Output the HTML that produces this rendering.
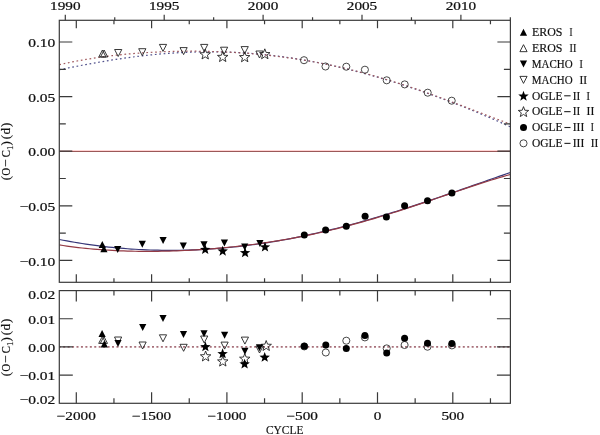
<!DOCTYPE html><html><head><meta charset="utf-8"><style>html,body{margin:0;padding:0;background:#fff;}svg{display:block;} </style></head><body><svg width="600" height="435" viewBox="0 0 600 435">
<rect width="600" height="435" fill="#fff"/>
<defs><filter id="nf" filterUnits="userSpaceOnUse" x="0" y="0" width="600" height="435"><feOffset dx="0" dy="0"/></filter><clipPath id="cu"><rect x="59.3" y="20.3" width="451.09999999999997" height="262.0"/></clipPath><clipPath id="cl"><rect x="59.3" y="290.6" width="451.09999999999997" height="112.69999999999999"/></clipPath></defs>
<g clip-path="url(#cu)" fill="none">
<line x1="59.3" y1="150.5" x2="510.4" y2="150.5" stroke="#ffd4d4" stroke-width="1"/>
<line x1="59.3" y1="151.5" x2="510.4" y2="151.5" stroke="#9c5858" stroke-width="1"/>
<path d="M59.30,69.76 L63.09,68.99 L66.88,68.23 L70.67,67.47 L74.46,66.72 L78.25,65.99 L82.04,65.26 L85.84,64.55 L89.63,63.85 L93.42,63.16 L97.21,62.49 L101.00,61.83 L104.79,61.19 L108.58,60.57 L112.37,59.96 L116.16,59.37 L119.95,58.80 L123.74,58.25 L127.53,57.72 L131.32,57.21 L135.12,56.71 L138.91,56.24 L142.70,55.80 L146.49,55.37 L150.28,54.97 L154.07,54.59 L157.86,54.23 L161.65,53.89 L165.44,53.58 L169.23,53.30 L173.02,53.04 L176.81,52.80 L180.60,52.59 L184.39,52.40 L188.19,52.24 L191.98,52.11 L195.77,52.00 L199.56,51.92 L203.35,51.86 L207.14,51.83 L210.93,51.83 L214.72,51.85 L218.51,51.90 L222.30,51.98 L226.09,52.08 L229.88,52.21 L233.67,52.37 L237.47,52.55 L241.26,52.76 L245.05,53.00 L248.84,53.26 L252.63,53.55 L256.42,53.87 L260.21,54.21 L264.00,54.58 L267.79,54.98 L271.58,55.40 L275.37,55.85 L279.16,56.32 L282.95,56.82 L286.75,57.35 L290.54,57.90 L294.33,58.47 L298.12,59.07 L301.91,59.70 L305.70,60.35 L309.49,61.03 L313.28,61.73 L317.07,62.46 L320.86,63.21 L324.65,63.98 L328.44,64.78 L332.23,65.60 L336.03,66.44 L339.82,67.31 L343.61,68.20 L347.40,69.11 L351.19,70.04 L354.98,71.00 L358.77,71.98 L362.56,72.98 L366.35,74.00 L370.14,75.05 L373.93,76.11 L377.72,77.19 L381.51,78.30 L385.31,79.43 L389.10,80.57 L392.89,81.74 L396.68,82.92 L400.47,84.13 L404.26,85.35 L408.05,86.60 L411.84,87.86 L415.63,89.14 L419.42,90.44 L423.21,91.76 L427.00,93.09 L430.79,94.45 L434.58,95.82 L438.38,97.21 L442.17,98.62 L445.96,100.04 L449.75,101.48 L453.54,102.94 L457.33,104.42 L461.12,105.91 L464.91,107.42 L468.70,108.94 L472.49,110.49 L476.28,112.05 L480.07,113.62 L483.86,115.22 L487.66,116.82 L491.45,118.45 L495.24,120.09 L499.03,121.75 L502.82,123.43 L506.61,125.12 L510.40,126.83" stroke="#50508c" stroke-width="1.2" stroke-dasharray="1.7 2.7"/>
<path d="M59.30,64.71 L63.09,63.85 L66.88,63.02 L70.67,62.24 L74.46,61.48 L78.25,60.76 L82.04,60.08 L85.84,59.42 L89.63,58.80 L93.42,58.20 L97.21,57.64 L101.00,57.10 L104.79,56.59 L108.58,56.11 L112.37,55.65 L116.16,55.22 L119.95,54.81 L123.74,54.43 L127.53,54.07 L131.32,53.73 L135.12,53.42 L138.91,53.12 L142.70,52.85 L146.49,52.60 L150.28,52.38 L154.07,52.17 L157.86,51.98 L161.65,51.82 L165.44,51.67 L169.23,51.54 L173.02,51.44 L176.81,51.35 L180.60,51.28 L184.39,51.24 L188.19,51.21 L191.98,51.20 L195.77,51.21 L199.56,51.24 L203.35,51.29 L207.14,51.36 L210.93,51.45 L214.72,51.55 L218.51,51.68 L222.30,51.83 L226.09,52.00 L229.88,52.19 L233.67,52.40 L237.47,52.62 L241.26,52.87 L245.05,53.14 L248.84,53.44 L252.63,53.75 L256.42,54.08 L260.21,54.44 L264.00,54.81 L267.79,55.21 L271.58,55.63 L275.37,56.08 L279.16,56.54 L282.95,57.03 L286.75,57.54 L290.54,58.08 L294.33,58.63 L298.12,59.21 L301.91,59.82 L305.70,60.45 L309.49,61.10 L313.28,61.77 L317.07,62.47 L320.86,63.19 L324.65,63.94 L328.44,64.71 L332.23,65.51 L336.03,66.33 L339.82,67.17 L343.61,68.04 L347.40,68.93 L351.19,69.85 L354.98,70.78 L358.77,71.75 L362.56,72.73 L366.35,73.75 L370.14,74.78 L373.93,75.84 L377.72,76.91 L381.51,78.02 L385.31,79.14 L389.10,80.29 L392.89,81.45 L396.68,82.64 L400.47,83.85 L404.26,85.08 L408.05,86.33 L411.84,87.59 L415.63,88.88 L419.42,90.18 L423.21,91.50 L427.00,92.83 L430.79,94.18 L434.58,95.55 L438.38,96.93 L442.17,98.32 L445.96,99.72 L449.75,101.13 L453.54,102.56 L457.33,103.99 L461.12,105.42 L464.91,106.87 L468.70,108.31 L472.49,109.77 L476.28,111.22 L480.07,112.67 L483.86,114.12 L487.66,115.57 L491.45,117.01 L495.24,118.45 L499.03,119.88 L502.82,121.30 L506.61,122.70 L510.40,124.10" stroke="#a05a5e" stroke-width="1.2" stroke-dasharray="1.7 2.7"/>
<path d="M59.30,239.49 L63.09,240.23 L66.88,240.94 L70.67,241.63 L74.46,242.28 L78.25,242.92 L82.04,243.52 L85.84,244.10 L89.63,244.65 L93.42,245.18 L97.21,245.68 L101.00,246.15 L104.79,246.60 L108.58,247.03 L112.37,247.42 L116.16,247.79 L119.95,248.14 L123.74,248.46 L127.53,248.76 L131.32,249.03 L135.12,249.27 L138.91,249.49 L142.70,249.68 L146.49,249.85 L150.28,250.00 L154.07,250.12 L157.86,250.21 L161.65,250.28 L165.44,250.33 L169.23,250.35 L173.02,250.34 L176.81,250.31 L180.60,250.26 L184.39,250.18 L188.19,250.08 L191.98,249.95 L195.77,249.81 L199.56,249.63 L203.35,249.43 L207.14,249.21 L210.93,248.97 L214.72,248.70 L218.51,248.41 L222.30,248.09 L226.09,247.75 L229.88,247.39 L233.67,247.01 L237.47,246.60 L241.26,246.17 L245.05,245.72 L248.84,245.24 L252.63,244.75 L256.42,244.23 L260.21,243.68 L264.00,243.12 L267.79,242.54 L271.58,241.93 L275.37,241.30 L279.16,240.65 L282.95,239.98 L286.75,239.29 L290.54,238.58 L294.33,237.84 L298.12,237.09 L301.91,236.32 L305.70,235.53 L309.49,234.71 L313.28,233.88 L317.07,233.03 L320.86,232.16 L324.65,231.27 L328.44,230.37 L332.23,229.44 L336.03,228.50 L339.82,227.54 L343.61,226.56 L347.40,225.57 L351.19,224.56 L354.98,223.53 L358.77,222.49 L362.56,221.43 L366.35,220.35 L370.14,219.26 L373.93,218.16 L377.72,217.04 L381.51,215.91 L385.31,214.76 L389.10,213.60 L392.89,212.43 L396.68,211.24 L400.47,210.05 L404.26,208.84 L408.05,207.62 L411.84,206.39 L415.63,205.15 L419.42,203.90 L423.21,202.64 L427.00,201.38 L430.79,200.10 L434.58,198.82 L438.38,197.53 L442.17,196.23 L445.96,194.93 L449.75,193.62 L453.54,192.31 L457.33,190.99 L461.12,189.67 L464.91,188.34 L468.70,187.02 L472.49,185.69 L476.28,184.36 L480.07,183.03 L483.86,181.70 L487.66,180.37 L491.45,179.04 L495.24,177.72 L499.03,176.39 L502.82,175.08 L506.61,173.76 L510.40,172.45" stroke="#363678" stroke-width="1.2"/>
<path d="M59.30,244.86 L63.09,245.47 L66.88,246.04 L70.67,246.58 L74.46,247.08 L78.25,247.55 L82.04,247.98 L85.84,248.39 L89.63,248.76 L93.42,249.11 L97.21,249.43 L101.00,249.72 L104.79,249.98 L108.58,250.22 L112.37,250.43 L116.16,250.62 L119.95,250.79 L123.74,250.93 L127.53,251.05 L131.32,251.15 L135.12,251.23 L138.91,251.29 L142.70,251.33 L146.49,251.34 L150.28,251.34 L154.07,251.32 L157.86,251.28 L161.65,251.22 L165.44,251.15 L169.23,251.05 L173.02,250.94 L176.81,250.81 L180.60,250.66 L184.39,250.49 L188.19,250.31 L191.98,250.11 L195.77,249.89 L199.56,249.65 L203.35,249.40 L207.14,249.13 L210.93,248.84 L214.72,248.53 L218.51,248.21 L222.30,247.87 L226.09,247.51 L229.88,247.13 L233.67,246.73 L237.47,246.32 L241.26,245.89 L245.05,245.44 L248.84,244.97 L252.63,244.48 L256.42,243.97 L260.21,243.45 L264.00,242.91 L267.79,242.34 L271.58,241.76 L275.37,241.16 L279.16,240.54 L282.95,239.90 L286.75,239.23 L290.54,238.55 L294.33,237.85 L298.12,237.13 L301.91,236.39 L305.70,235.63 L309.49,234.85 L313.28,234.05 L317.07,233.23 L320.86,232.39 L324.65,231.53 L328.44,230.64 L332.23,229.74 L336.03,228.82 L339.82,227.88 L343.61,226.92 L347.40,225.94 L351.19,224.94 L354.98,223.93 L358.77,222.89 L362.56,221.84 L366.35,220.76 L370.14,219.67 L373.93,218.57 L377.72,217.44 L381.51,216.30 L385.31,215.15 L389.10,213.98 L392.89,212.79 L396.68,211.60 L400.47,210.38 L404.26,209.16 L408.05,207.92 L411.84,206.68 L415.63,205.42 L419.42,204.16 L423.21,202.88 L427.00,201.60 L430.79,200.31 L434.58,199.02 L438.38,197.73 L442.17,196.43 L445.96,195.13 L449.75,193.84 L453.54,192.54 L457.33,191.25 L461.12,189.96 L464.91,188.68 L468.70,187.41 L472.49,186.14 L476.28,184.89 L480.07,183.65 L483.86,182.43 L487.66,181.23 L491.45,180.04 L495.24,178.88 L499.03,177.74 L502.82,176.63 L506.61,175.54 L510.40,174.49" stroke="#943a44" stroke-width="1.2"/>
</g>
<g clip-path="url(#cl)"><line x1="59.3" y1="346.90" x2="510.4" y2="346.90" stroke="#a8707a" stroke-width="1.7" stroke-dasharray="2.0 2.44" stroke-dashoffset="0.56"/></g>
<rect x="59.3" y="20.3" width="451.10" height="262.00" fill="none" stroke="#3a3a3a" stroke-width="1.2"/>
<rect x="59.3" y="290.6" width="451.10" height="112.70" fill="none" stroke="#3a3a3a" stroke-width="1.2"/>
<path d="M76.30,282.30L76.30,274.30M76.30,20.30L76.30,28.30M76.30,403.30L76.30,392.30M76.30,290.60L76.30,301.60M113.95,282.30L113.95,278.30M113.95,20.30L113.95,24.30M113.95,403.30L113.95,398.30M113.95,290.60L113.95,295.60M151.60,282.30L151.60,274.30M151.60,20.30L151.60,28.30M151.60,403.30L151.60,392.30M151.60,290.60L151.60,301.60M189.25,282.30L189.25,278.30M189.25,20.30L189.25,24.30M189.25,403.30L189.25,398.30M189.25,290.60L189.25,295.60M226.90,282.30L226.90,274.30M226.90,20.30L226.90,28.30M226.90,403.30L226.90,392.30M226.90,290.60L226.90,301.60M264.55,282.30L264.55,278.30M264.55,20.30L264.55,24.30M264.55,403.30L264.55,398.30M264.55,290.60L264.55,295.60M302.20,282.30L302.20,274.30M302.20,20.30L302.20,28.30M302.20,403.30L302.20,392.30M302.20,290.60L302.20,301.60M339.85,282.30L339.85,278.30M339.85,20.30L339.85,24.30M339.85,403.30L339.85,398.30M339.85,290.60L339.85,295.60M377.50,282.30L377.50,274.30M377.50,20.30L377.50,28.30M377.50,403.30L377.50,392.30M377.50,290.60L377.50,301.60M415.15,282.30L415.15,278.30M415.15,20.30L415.15,24.30M415.15,403.30L415.15,398.30M415.15,290.60L415.15,295.60M452.80,282.30L452.80,274.30M452.80,20.30L452.80,28.30M452.80,403.30L452.80,392.30M452.80,290.60L452.80,301.60M490.45,282.30L490.45,278.30M490.45,20.30L490.45,24.30M490.45,403.30L490.45,398.30M490.45,290.60L490.45,295.60M65.30,20.30L65.30,14.80M114.75,20.30L114.75,17.30M164.20,20.30L164.20,14.80M213.65,20.30L213.65,17.30M263.10,20.30L263.10,14.80M312.55,20.30L312.55,17.30M362.00,20.30L362.00,14.80M411.45,20.30L411.45,17.30M460.90,20.30L460.90,14.80M510.35,20.30L510.35,17.30M59.30,260.40L72.30,260.40M510.40,260.40L497.40,260.40M59.30,233.10L65.80,233.10M510.40,233.10L503.90,233.10M59.30,205.80L72.30,205.80M510.40,205.80L497.40,205.80M59.30,178.50L65.80,178.50M510.40,178.50L503.90,178.50M59.30,151.20L72.30,151.20M510.40,151.20L497.40,151.20M59.30,123.90L65.80,123.90M510.40,123.90L503.90,123.90M59.30,96.60L72.30,96.60M510.40,96.60L497.40,96.60M59.30,69.30L65.80,69.30M510.40,69.30L503.90,69.30M59.30,42.00L72.30,42.00M510.40,42.00L497.40,42.00M59.30,375.05L72.80,375.05M510.40,375.05L496.90,375.05M59.30,346.90L72.80,346.90M510.40,346.90L496.90,346.90M59.30,318.75L72.80,318.75M510.40,318.75L496.90,318.75" stroke="#3a3a3a" stroke-width="1.2" fill="none"/>
<g><polygon points="102.40,50.00 98.80,57.00 106.00,57.00" fill="none" stroke="#222" stroke-width="0.9" stroke-linejoin="miter"/>
<polygon points="104.10,50.00 100.50,57.00 107.70,57.00" fill="none" stroke="#222" stroke-width="0.9" stroke-linejoin="miter"/>
<polygon points="118.20,56.50 114.60,49.50 121.80,49.50" fill="none" stroke="#222" stroke-width="0.9" stroke-linejoin="miter"/>
<polygon points="142.30,55.70 138.70,48.70 145.90,48.70" fill="none" stroke="#222" stroke-width="0.9" stroke-linejoin="miter"/>
<polygon points="163.00,51.40 159.40,44.40 166.60,44.40" fill="none" stroke="#222" stroke-width="0.9" stroke-linejoin="miter"/>
<polygon points="183.60,54.60 180.00,47.60 187.20,47.60" fill="none" stroke="#222" stroke-width="0.9" stroke-linejoin="miter"/>
<polygon points="204.20,51.40 200.60,44.40 207.80,44.40" fill="none" stroke="#222" stroke-width="0.9" stroke-linejoin="miter"/>
<polygon points="224.10,54.20 220.50,47.20 227.70,47.20" fill="none" stroke="#222" stroke-width="0.9" stroke-linejoin="miter"/>
<polygon points="244.70,53.60 241.10,46.60 248.30,46.60" fill="none" stroke="#222" stroke-width="0.9" stroke-linejoin="miter"/>
<polygon points="259.50,58.00 255.90,51.00 263.10,51.00" fill="none" stroke="#222" stroke-width="0.9" stroke-linejoin="miter"/>
<polygon points="205.20,49.03 206.55,52.66 210.43,52.83 207.39,55.24 208.43,58.97 205.20,56.83 201.97,58.97 203.01,55.24 199.97,52.83 203.85,52.66" fill="none" stroke="#222" stroke-width="0.9" stroke-linejoin="miter"/>
<polygon points="222.70,51.63 224.05,55.26 227.93,55.43 224.89,57.84 225.93,61.57 222.70,59.43 219.47,61.57 220.51,57.84 217.47,55.43 221.35,55.26" fill="none" stroke="#222" stroke-width="0.9" stroke-linejoin="miter"/>
<polygon points="244.70,51.83 246.05,55.46 249.93,55.63 246.89,58.04 247.93,61.77 244.70,59.63 241.47,61.77 242.51,58.04 239.47,55.63 243.35,55.46" fill="none" stroke="#222" stroke-width="0.9" stroke-linejoin="miter"/>
<polygon points="264.80,48.83 266.15,52.46 270.03,52.63 266.99,55.04 268.03,58.77 264.80,56.63 261.57,58.77 262.61,55.04 259.57,52.63 263.45,52.46" fill="none" stroke="#222" stroke-width="0.9" stroke-linejoin="miter"/>
<circle cx="304.00" cy="60.20" r="3.55" fill="none" stroke="#333" stroke-width="0.9"/>
<circle cx="325.50" cy="66.50" r="3.55" fill="none" stroke="#333" stroke-width="0.9"/>
<circle cx="346.30" cy="66.70" r="3.55" fill="none" stroke="#333" stroke-width="0.9"/>
<circle cx="364.90" cy="69.70" r="3.55" fill="none" stroke="#333" stroke-width="0.9"/>
<circle cx="386.70" cy="80.30" r="3.55" fill="none" stroke="#333" stroke-width="0.9"/>
<circle cx="404.70" cy="84.40" r="3.55" fill="none" stroke="#333" stroke-width="0.9"/>
<circle cx="427.70" cy="92.70" r="3.55" fill="none" stroke="#333" stroke-width="0.9"/>
<circle cx="451.70" cy="100.70" r="3.55" fill="none" stroke="#333" stroke-width="0.9"/>
<polygon points="102.30,241.10 98.70,248.10 105.90,248.10" fill="#000"/>
<polygon points="103.90,245.20 100.30,252.20 107.50,252.20" fill="#000"/>
<polygon points="117.70,253.00 114.10,246.00 121.30,246.00" fill="#000"/>
<polygon points="142.30,247.70 138.70,240.70 145.90,240.70" fill="#000"/>
<polygon points="163.10,244.00 159.50,237.00 166.70,237.00" fill="#000"/>
<polygon points="183.30,249.50 179.70,242.50 186.90,242.50" fill="#000"/>
<polygon points="204.00,248.30 200.40,241.30 207.60,241.30" fill="#000"/>
<polygon points="224.40,246.60 220.80,239.60 228.00,239.60" fill="#000"/>
<polygon points="244.70,250.40 241.10,243.40 248.30,243.40" fill="#000"/>
<polygon points="259.90,247.10 256.30,240.10 263.50,240.10" fill="#000"/>
<polygon points="205.20,244.13 206.55,247.76 210.43,247.93 207.39,250.34 208.43,254.07 205.20,251.93 201.97,254.07 203.01,250.34 199.97,247.93 203.85,247.76" fill="#000"/>
<polygon points="222.70,245.73 224.05,249.36 227.93,249.53 224.89,251.94 225.93,255.67 222.70,253.53 219.47,255.67 220.51,251.94 217.47,249.53 221.35,249.36" fill="#000"/>
<polygon points="245.10,247.33 246.45,250.96 250.33,251.13 247.29,253.54 248.33,257.27 245.10,255.13 241.87,257.27 242.91,253.54 239.87,251.13 243.75,250.96" fill="#000"/>
<polygon points="265.00,241.63 266.35,245.26 270.23,245.43 267.19,247.84 268.23,251.57 265.00,249.43 261.77,251.57 262.81,247.84 259.77,245.43 263.65,245.26" fill="#000"/>
<circle cx="304.30" cy="234.90" r="3.5" fill="#000"/>
<circle cx="325.60" cy="230.00" r="3.5" fill="#000"/>
<circle cx="346.30" cy="226.30" r="3.5" fill="#000"/>
<circle cx="365.10" cy="216.30" r="3.5" fill="#000"/>
<circle cx="386.40" cy="217.10" r="3.5" fill="#000"/>
<circle cx="404.60" cy="205.80" r="3.5" fill="#000"/>
<circle cx="427.50" cy="200.80" r="3.5" fill="#000"/>
<circle cx="451.90" cy="192.90" r="3.5" fill="#000"/></g>
<g><polygon points="102.30,336.40 98.70,343.40 105.90,343.40" fill="none" stroke="#222" stroke-width="0.9" stroke-linejoin="miter"/>
<polygon points="103.90,336.40 100.30,343.40 107.50,343.40" fill="none" stroke="#222" stroke-width="0.9" stroke-linejoin="miter"/>
<polygon points="118.10,344.00 114.50,337.00 121.70,337.00" fill="none" stroke="#222" stroke-width="0.9" stroke-linejoin="miter"/>
<polygon points="142.60,349.00 139.00,342.00 146.20,342.00" fill="none" stroke="#222" stroke-width="0.9" stroke-linejoin="miter"/>
<polygon points="163.00,341.80 159.40,334.80 166.60,334.80" fill="none" stroke="#222" stroke-width="0.9" stroke-linejoin="miter"/>
<polygon points="183.60,351.30 180.00,344.30 187.20,344.30" fill="none" stroke="#222" stroke-width="0.9" stroke-linejoin="miter"/>
<polygon points="204.20,343.00 200.60,336.00 207.80,336.00" fill="none" stroke="#222" stroke-width="0.9" stroke-linejoin="miter"/>
<polygon points="224.60,349.10 221.00,342.10 228.20,342.10" fill="none" stroke="#222" stroke-width="0.9" stroke-linejoin="miter"/>
<polygon points="244.90,344.10 241.30,337.10 248.50,337.10" fill="none" stroke="#222" stroke-width="0.9" stroke-linejoin="miter"/>
<polygon points="259.50,353.00 255.90,346.00 263.10,346.00" fill="none" stroke="#222" stroke-width="0.9" stroke-linejoin="miter"/>
<polygon points="205.60,351.03 206.95,354.66 210.83,354.83 207.79,357.24 208.83,360.97 205.60,358.83 202.37,360.97 203.41,357.24 200.37,354.83 204.25,354.66" fill="none" stroke="#222" stroke-width="0.9" stroke-linejoin="miter"/>
<polygon points="222.80,356.13 224.15,359.76 228.03,359.93 224.99,362.34 226.03,366.07 222.80,363.93 219.57,366.07 220.61,362.34 217.57,359.93 221.45,359.76" fill="none" stroke="#222" stroke-width="0.9" stroke-linejoin="miter"/>
<polygon points="244.80,353.43 246.15,357.06 250.03,357.23 246.99,359.64 248.03,363.37 244.80,361.23 241.57,363.37 242.61,359.64 239.57,357.23 243.45,357.06" fill="none" stroke="#222" stroke-width="0.9" stroke-linejoin="miter"/>
<polygon points="266.20,340.53 267.55,344.16 271.43,344.33 268.39,346.74 269.43,350.47 266.20,348.33 262.97,350.47 264.01,346.74 260.97,344.33 264.85,344.16" fill="none" stroke="#222" stroke-width="0.9" stroke-linejoin="miter"/>
<circle cx="304.30" cy="346.40" r="3.55" fill="none" stroke="#333" stroke-width="0.9"/>
<circle cx="325.80" cy="352.50" r="3.55" fill="none" stroke="#333" stroke-width="0.9"/>
<circle cx="346.30" cy="340.70" r="3.55" fill="none" stroke="#333" stroke-width="0.9"/>
<circle cx="364.90" cy="337.40" r="3.55" fill="none" stroke="#333" stroke-width="0.9"/>
<circle cx="386.70" cy="348.40" r="3.55" fill="none" stroke="#333" stroke-width="0.9"/>
<circle cx="404.60" cy="345.00" r="3.55" fill="none" stroke="#333" stroke-width="0.9"/>
<circle cx="427.50" cy="346.70" r="3.55" fill="none" stroke="#333" stroke-width="0.9"/>
<circle cx="451.90" cy="345.40" r="3.55" fill="none" stroke="#333" stroke-width="0.9"/>
<polygon points="102.10,329.90 98.50,336.90 105.70,336.90" fill="#000"/>
<polygon points="104.30,340.40 100.70,347.40 107.90,347.40" fill="#000"/>
<polygon points="118.00,347.00 114.40,340.00 121.60,340.00" fill="#000"/>
<polygon points="142.70,331.10 139.10,324.10 146.30,324.10" fill="#000"/>
<polygon points="163.00,322.00 159.40,315.00 166.60,315.00" fill="#000"/>
<polygon points="183.50,337.90 179.90,330.90 187.10,330.90" fill="#000"/>
<polygon points="204.00,337.30 200.40,330.30 207.60,330.30" fill="#000"/>
<polygon points="224.60,338.80 221.00,331.80 228.20,331.80" fill="#000"/>
<polygon points="244.90,354.80 241.30,347.80 248.50,347.80" fill="#000"/>
<polygon points="259.50,351.30 255.90,344.30 263.10,344.30" fill="#000"/>
<polygon points="205.40,341.43 206.75,345.06 210.63,345.23 207.59,347.64 208.63,351.37 205.40,349.23 202.17,351.37 203.21,347.64 200.17,345.23 204.05,345.06" fill="#000"/>
<polygon points="222.60,348.33 223.95,351.96 227.83,352.13 224.79,354.54 225.83,358.27 222.60,356.13 219.37,358.27 220.41,354.54 217.37,352.13 221.25,351.96" fill="#000"/>
<polygon points="244.60,358.63 245.95,362.26 249.83,362.43 246.79,364.84 247.83,368.57 244.60,366.43 241.37,368.57 242.41,364.84 239.37,362.43 243.25,362.26" fill="#000"/>
<polygon points="264.70,351.93 266.05,355.56 269.93,355.73 266.89,358.14 267.93,361.87 264.70,359.73 261.47,361.87 262.51,358.14 259.47,355.73 263.35,355.56" fill="#000"/>
<circle cx="304.30" cy="346.20" r="3.5" fill="#000"/>
<circle cx="325.80" cy="345.10" r="3.5" fill="#000"/>
<circle cx="346.30" cy="348.40" r="3.5" fill="#000"/>
<circle cx="364.90" cy="335.60" r="3.5" fill="#000"/>
<circle cx="386.70" cy="353.00" r="3.5" fill="#000"/>
<circle cx="404.60" cy="338.30" r="3.5" fill="#000"/>
<circle cx="427.50" cy="343.30" r="3.5" fill="#000"/>
<circle cx="451.90" cy="343.50" r="3.5" fill="#000"/></g>
<g filter="url(#nf)">
<text transform="translate(65.30,9.90) scale(1.27,1)" font-family="Liberation Serif, serif" font-size="12.0" text-anchor="middle" fill="#111" stroke="#111" stroke-width="0.22">1990</text>
<text transform="translate(164.20,9.90) scale(1.27,1)" font-family="Liberation Serif, serif" font-size="12.0" text-anchor="middle" fill="#111" stroke="#111" stroke-width="0.22">1995</text>
<text transform="translate(263.10,9.90) scale(1.27,1)" font-family="Liberation Serif, serif" font-size="12.0" text-anchor="middle" fill="#111" stroke="#111" stroke-width="0.22">2000</text>
<text transform="translate(362.00,9.90) scale(1.27,1)" font-family="Liberation Serif, serif" font-size="12.0" text-anchor="middle" fill="#111" stroke="#111" stroke-width="0.22">2005</text>
<text transform="translate(460.90,9.90) scale(1.27,1)" font-family="Liberation Serif, serif" font-size="12.0" text-anchor="middle" fill="#111" stroke="#111" stroke-width="0.22">2010</text>
<text transform="translate(76.30,420.30) scale(1.27,1)" font-family="Liberation Serif, serif" font-size="12.0" text-anchor="middle" fill="#111" stroke="#111" stroke-width="0.22">−2000</text>
<text transform="translate(151.60,420.30) scale(1.27,1)" font-family="Liberation Serif, serif" font-size="12.0" text-anchor="middle" fill="#111" stroke="#111" stroke-width="0.22">−1500</text>
<text transform="translate(226.90,420.30) scale(1.27,1)" font-family="Liberation Serif, serif" font-size="12.0" text-anchor="middle" fill="#111" stroke="#111" stroke-width="0.22">−1000</text>
<text transform="translate(302.20,420.30) scale(1.27,1)" font-family="Liberation Serif, serif" font-size="12.0" text-anchor="middle" fill="#111" stroke="#111" stroke-width="0.22">−500</text>
<text transform="translate(377.50,420.30) scale(1.27,1)" font-family="Liberation Serif, serif" font-size="12.0" text-anchor="middle" fill="#111" stroke="#111" stroke-width="0.22">0</text>
<text transform="translate(452.80,420.30) scale(1.27,1)" font-family="Liberation Serif, serif" font-size="12.0" text-anchor="middle" fill="#111" stroke="#111" stroke-width="0.22">500</text>
<text transform="translate(55.30,46.90) scale(1.22,1)" font-family="Liberation Serif, serif" font-size="12.7" text-anchor="end" fill="#111" stroke="#111" stroke-width="0.22">0.10</text>
<text transform="translate(55.30,101.90) scale(1.22,1)" font-family="Liberation Serif, serif" font-size="12.7" text-anchor="end" fill="#111" stroke="#111" stroke-width="0.22">0.05</text>
<text transform="translate(55.30,156.30) scale(1.22,1)" font-family="Liberation Serif, serif" font-size="12.7" text-anchor="end" fill="#111" stroke="#111" stroke-width="0.22">0.00</text>
<text transform="translate(55.30,210.85) scale(1.22,1)" font-family="Liberation Serif, serif" font-size="12.7" text-anchor="end" fill="#111" stroke="#111" stroke-width="0.22">−0.05</text>
<text transform="translate(55.30,265.90) scale(1.22,1)" font-family="Liberation Serif, serif" font-size="12.7" text-anchor="end" fill="#111" stroke="#111" stroke-width="0.22">−0.10</text>
<text transform="translate(55.30,298.50) scale(1.22,1)" font-family="Liberation Serif, serif" font-size="12.7" text-anchor="end" fill="#111" stroke="#111" stroke-width="0.22">0.02</text>
<text transform="translate(55.30,323.90) scale(1.22,1)" font-family="Liberation Serif, serif" font-size="12.7" text-anchor="end" fill="#111" stroke="#111" stroke-width="0.22">0.01</text>
<text transform="translate(55.30,351.90) scale(1.22,1)" font-family="Liberation Serif, serif" font-size="12.7" text-anchor="end" fill="#111" stroke="#111" stroke-width="0.22">0.00</text>
<text transform="translate(55.30,379.90) scale(1.22,1)" font-family="Liberation Serif, serif" font-size="12.7" text-anchor="end" fill="#111" stroke="#111" stroke-width="0.22">−0.01</text>
<text transform="translate(55.30,403.70) scale(1.22,1)" font-family="Liberation Serif, serif" font-size="12.7" text-anchor="end" fill="#111" stroke="#111" stroke-width="0.22">−0.02</text>
<text x="266.0" y="434.4" font-family="Liberation Serif, serif" font-size="12.6" fill="#111" stroke="#111" stroke-width="0.15" textLength="37.4" lengthAdjust="spacingAndGlyphs">CYCLE</text>
<text class="r" transform="translate(10.20,0) rotate(-90) translate(-178.10,0) scale(1.0,1)" font-family="Liberation Serif, serif" font-size="13.2" text-anchor="middle" fill="#111" stroke="#111" stroke-width="0.18">(</text>
<text class="r" transform="translate(10.20,0) rotate(-90) translate(-171.60,0) scale(0.8,1)" font-family="Liberation Serif, serif" font-size="13.2" text-anchor="middle" fill="#111" stroke="#111" stroke-width="0.18">O</text>
<text class="r" transform="translate(10.20,0) rotate(-90) translate(-163.00,0) scale(1.05,1)" font-family="Liberation Serif, serif" font-size="13.2" text-anchor="middle" fill="#111" stroke="#111" stroke-width="0.18">−</text>
<text class="r" transform="translate(10.20,0) rotate(-90) translate(-153.75,0) scale(0.82,1)" font-family="Liberation Serif, serif" font-size="13.2" text-anchor="middle" fill="#111" stroke="#111" stroke-width="0.18">C</text>
<text class="r" transform="translate(12.80,0) rotate(-90) translate(-147.85,0) scale(0.9,1)" font-family="Liberation Serif, serif" font-size="8.6" text-anchor="middle" fill="#111" stroke="#111" stroke-width="0.18">1</text>
<text class="r" transform="translate(10.20,0) rotate(-90) translate(-143.35,0) scale(1.0,1)" font-family="Liberation Serif, serif" font-size="13.2" text-anchor="middle" fill="#111" stroke="#111" stroke-width="0.18">)</text>
<text class="r" transform="translate(10.20,0) rotate(-90) translate(-137.15,0) scale(1.0,1)" font-family="Liberation Serif, serif" font-size="13.2" text-anchor="middle" fill="#111" stroke="#111" stroke-width="0.18">(</text>
<text class="r" transform="translate(10.20,0) rotate(-90) translate(-131.10,0) scale(1.0,1)" font-family="Liberation Serif, serif" font-size="13.2" text-anchor="middle" fill="#111" stroke="#111" stroke-width="0.18">d</text>
<text class="r" transform="translate(10.20,0) rotate(-90) translate(-124.90,0) scale(1.0,1)" font-family="Liberation Serif, serif" font-size="13.2" text-anchor="middle" fill="#111" stroke="#111" stroke-width="0.18">)</text>
<text class="r" transform="translate(10.20,0) rotate(-90) translate(-374.10,0) scale(1.0,1)" font-family="Liberation Serif, serif" font-size="13.2" text-anchor="middle" fill="#111" stroke="#111" stroke-width="0.18">(</text>
<text class="r" transform="translate(10.20,0) rotate(-90) translate(-367.60,0) scale(0.8,1)" font-family="Liberation Serif, serif" font-size="13.2" text-anchor="middle" fill="#111" stroke="#111" stroke-width="0.18">O</text>
<text class="r" transform="translate(10.20,0) rotate(-90) translate(-359.00,0) scale(1.05,1)" font-family="Liberation Serif, serif" font-size="13.2" text-anchor="middle" fill="#111" stroke="#111" stroke-width="0.18">−</text>
<text class="r" transform="translate(10.20,0) rotate(-90) translate(-349.75,0) scale(0.82,1)" font-family="Liberation Serif, serif" font-size="13.2" text-anchor="middle" fill="#111" stroke="#111" stroke-width="0.18">C</text>
<text class="r" transform="translate(12.80,0) rotate(-90) translate(-343.85,0) scale(0.9,1)" font-family="Liberation Serif, serif" font-size="8.6" text-anchor="middle" fill="#111" stroke="#111" stroke-width="0.18">1</text>
<text class="r" transform="translate(10.20,0) rotate(-90) translate(-339.35,0) scale(1.0,1)" font-family="Liberation Serif, serif" font-size="13.2" text-anchor="middle" fill="#111" stroke="#111" stroke-width="0.18">)</text>
<text class="r" transform="translate(10.20,0) rotate(-90) translate(-333.15,0) scale(1.0,1)" font-family="Liberation Serif, serif" font-size="13.2" text-anchor="middle" fill="#111" stroke="#111" stroke-width="0.18">(</text>
<text class="r" transform="translate(10.20,0) rotate(-90) translate(-327.10,0) scale(1.0,1)" font-family="Liberation Serif, serif" font-size="13.2" text-anchor="middle" fill="#111" stroke="#111" stroke-width="0.18">d</text>
<text class="r" transform="translate(10.20,0) rotate(-90) translate(-320.90,0) scale(1.0,1)" font-family="Liberation Serif, serif" font-size="13.2" text-anchor="middle" fill="#111" stroke="#111" stroke-width="0.18">)</text>
<polygon points="523.50,28.80 519.90,35.80 527.10,35.80" fill="#000"/>
<text x="531.90" y="36.10" font-family="Liberation Serif, serif" font-size="13.2" fill="#111" stroke="#111" stroke-width="0.2" textLength="30.50" lengthAdjust="spacingAndGlyphs">EROS</text>
<text x="569.50" y="36.10" font-family="Liberation Serif, serif" font-size="13.2" fill="#111" stroke="#111" stroke-width="0.2" textLength="3.00" lengthAdjust="spacingAndGlyphs">I</text>
<polygon points="523.50,44.66 519.90,51.66 527.10,51.66" fill="none" stroke="#222" stroke-width="0.9" stroke-linejoin="miter"/>
<text x="531.90" y="51.96" font-family="Liberation Serif, serif" font-size="13.2" fill="#111" stroke="#111" stroke-width="0.2" textLength="30.50" lengthAdjust="spacingAndGlyphs">EROS</text>
<text x="569.50" y="51.96" font-family="Liberation Serif, serif" font-size="13.2" fill="#111" stroke="#111" stroke-width="0.2" textLength="6.80" lengthAdjust="spacingAndGlyphs">II</text>
<polygon points="523.50,67.52 519.90,60.52 527.10,60.52" fill="#000"/>
<text x="531.80" y="67.82" font-family="Liberation Serif, serif" font-size="13.2" fill="#111" stroke="#111" stroke-width="0.2" textLength="40.80" lengthAdjust="spacingAndGlyphs">MACHO</text>
<text x="579.40" y="67.82" font-family="Liberation Serif, serif" font-size="13.2" fill="#111" stroke="#111" stroke-width="0.2" textLength="3.30" lengthAdjust="spacingAndGlyphs">I</text>
<polygon points="523.50,83.38 519.90,76.38 527.10,76.38" fill="none" stroke="#222" stroke-width="0.9" stroke-linejoin="miter"/>
<text x="531.80" y="83.68" font-family="Liberation Serif, serif" font-size="13.2" fill="#111" stroke="#111" stroke-width="0.2" textLength="40.80" lengthAdjust="spacingAndGlyphs">MACHO</text>
<text x="579.40" y="83.68" font-family="Liberation Serif, serif" font-size="13.2" fill="#111" stroke="#111" stroke-width="0.2" textLength="7.60" lengthAdjust="spacingAndGlyphs">II</text>
<polygon points="523.50,90.77 524.85,94.40 528.73,94.57 525.69,96.98 526.73,100.71 523.50,98.57 520.27,100.71 521.31,96.98 518.27,94.57 522.15,94.40" fill="#000"/>
<text x="531.90" y="99.54" font-family="Liberation Serif, serif" font-size="13.2" fill="#111" stroke="#111" stroke-width="0.2" textLength="30.60" lengthAdjust="spacingAndGlyphs">OGLE</text>
<rect x="564.20" y="95.24" width="6.40" height="1.1" fill="#222"/>
<text x="572.70" y="99.54" font-family="Liberation Serif, serif" font-size="13.2" fill="#111" stroke="#111" stroke-width="0.2" textLength="7.50" lengthAdjust="spacingAndGlyphs">II</text>
<text x="586.50" y="99.54" font-family="Liberation Serif, serif" font-size="13.2" fill="#111" stroke="#111" stroke-width="0.2" textLength="3.40" lengthAdjust="spacingAndGlyphs">I</text>
<polygon points="523.50,106.63 524.85,110.26 528.73,110.43 525.69,112.84 526.73,116.57 523.50,114.43 520.27,116.57 521.31,112.84 518.27,110.43 522.15,110.26" fill="none" stroke="#222" stroke-width="0.9" stroke-linejoin="miter"/>
<text x="531.90" y="115.40" font-family="Liberation Serif, serif" font-size="13.2" fill="#111" stroke="#111" stroke-width="0.2" textLength="30.60" lengthAdjust="spacingAndGlyphs">OGLE</text>
<rect x="564.20" y="111.10" width="6.40" height="1.1" fill="#222"/>
<text x="572.70" y="115.40" font-family="Liberation Serif, serif" font-size="13.2" fill="#111" stroke="#111" stroke-width="0.2" textLength="7.50" lengthAdjust="spacingAndGlyphs">II</text>
<text x="586.50" y="115.40" font-family="Liberation Serif, serif" font-size="13.2" fill="#111" stroke="#111" stroke-width="0.2" textLength="7.80" lengthAdjust="spacingAndGlyphs">II</text>
<circle cx="523.50" cy="127.46" r="3.5" fill="#000"/>
<text x="531.90" y="131.26" font-family="Liberation Serif, serif" font-size="13.2" fill="#111" stroke="#111" stroke-width="0.2" textLength="30.60" lengthAdjust="spacingAndGlyphs">OGLE</text>
<rect x="564.40" y="126.96" width="6.10" height="1.1" fill="#222"/>
<text x="572.70" y="131.26" font-family="Liberation Serif, serif" font-size="13.2" fill="#111" stroke="#111" stroke-width="0.2" textLength="11.60" lengthAdjust="spacingAndGlyphs">III</text>
<text x="590.70" y="131.26" font-family="Liberation Serif, serif" font-size="13.2" fill="#111" stroke="#111" stroke-width="0.2" textLength="3.10" lengthAdjust="spacingAndGlyphs">I</text>
<circle cx="523.50" cy="143.32" r="3.55" fill="none" stroke="#333" stroke-width="0.9"/>
<text x="531.90" y="147.12" font-family="Liberation Serif, serif" font-size="13.2" fill="#111" stroke="#111" stroke-width="0.2" textLength="30.60" lengthAdjust="spacingAndGlyphs">OGLE</text>
<rect x="564.40" y="142.82" width="6.10" height="1.1" fill="#222"/>
<text x="572.70" y="147.12" font-family="Liberation Serif, serif" font-size="13.2" fill="#111" stroke="#111" stroke-width="0.2" textLength="11.60" lengthAdjust="spacingAndGlyphs">III</text>
<text x="590.70" y="147.12" font-family="Liberation Serif, serif" font-size="13.2" fill="#111" stroke="#111" stroke-width="0.2" textLength="7.60" lengthAdjust="spacingAndGlyphs">II</text>
</g>
</svg></body></html>
